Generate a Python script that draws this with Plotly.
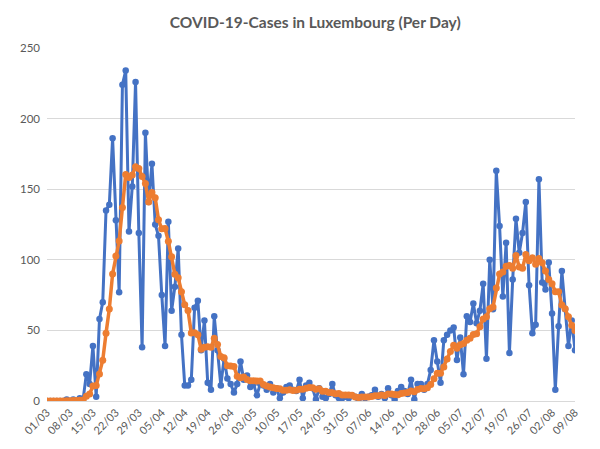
import pandas as pd
import plotly.graph_objects as go

# Dates 01/03/2020 .. 09/08/2020 (categories)
dates = [d.strftime("%d/%m") for d in pd.date_range("2020-03-01", "2020-08-09")]

tick_labels = ["01/03", "08/03", "15/03", "22/03", "29/03", "05/04", "12/04", "19/04",
               "26/04", "03/05", "10/05", "17/05", "24/05", "31/05", "07/06", "14/06",
               "21/06", "28/06", "05/07", "12/07", "19/07", "26/07", "02/08", "09/08"]

# Daily new cases
cases_march = [0, 0, 0, 0, 0, 0, 1, 0, 1, 0, 2, 1, 19, 12, 39, 3, 58, 70, 135, 139,
               186, 128, 77, 224, 234, 120, 152, 226, 119, 38, 190]
cases_april = [141, 168, 125, 117, 75, 39, 127, 64, 81, 108, 47, 11, 11, 15, 66, 71,
               36, 57, 13, 8, 60, 36, 11, 30, 16, 12, 6, 12, 28, 15]
cases_may = [18, 10, 12, 4, 12, 11, 8, 12, 6, 9, 2, 6, 10, 11, 8, 7, 15, 2, 11, 13,
             9, 1, 9, 3, 2, 5, 12, 4, 2, 2, 3]
cases_june = [2, 4, 3, 1, 5, 2, 3, 4, 8, 3, 5, 2, 9, 4, 1, 7, 10, 7, 5, 15, 1, 12,
              12, 8, 12, 22, 43, 28, 13, 43]
cases_july = [47, 50, 52, 29, 45, 19, 60, 56, 69, 55, 64, 83, 30, 100, 65, 163, 124,
              74, 112, 34, 86, 129, 105, 119, 141, 82, 48, 54, 157, 84, 79]
cases_august = [98, 62, 8, 53, 92, 65, 39, 57, 36]
daily_cases = cases_march + cases_april + cases_may + cases_june + cases_july + cases_august

# 7-day average (values read from / checked against the chart)
avg_march = [0, 0, 0, 0, 0, 0, 0.1, 0.1, 0.3, 0.3, 0.6, 0.7, 3.4, 5.0, 10.6, 10.9, 19.1,
             28.9, 48.0, 65.1, 90.0, 102.7, 113.3, 137.0, 160.4, 158.3, 160.1, 165.9,
             164.6, 159.0, 154.1]
avg_april = [140.9, 147.7, 143.9, 128.3, 122.0, 122.1, 113.1, 102.1, 89.7, 87.3, 77.3,
             68.1, 64.1, 48.1, 48.4, 47.0, 36.7, 38.1, 38.4, 38.0, 44.4, 40.1, 31.6,
             30.7, 24.9, 24.7, 24.4, 17.6, 16.4, 17.0]
avg_may = [15.3, 14.4, 14.4, 14.1, 14.1, 11.7, 10.7, 9.9, 9.3, 8.9, 8.6, 7.7, 7.6, 8.0,
           7.4, 7.6, 8.4, 8.4, 9.1, 9.6, 9.3, 8.3, 8.6, 6.9, 6.9, 6.0, 5.9, 5.1, 5.3,
           4.3, 4.3]
avg_june = [4.3, 4.1, 2.9, 2.4, 2.9, 2.9, 2.9, 3.1, 3.7, 3.7, 4.3, 3.9, 4.9, 5.0, 4.6,
            4.4, 5.4, 5.7, 6.1, 7.0, 6.6, 8.1, 8.9, 8.6, 9.3, 11.7, 15.7, 19.6, 19.7,
            24.1]
avg_july = [29.7, 35.1, 39.4, 37.4, 39.9, 40.7, 43.1, 44.4, 47.1, 47.6, 52.6, 58.0,
            59.6, 65.3, 66.6, 80.0, 89.9, 91.3, 95.4, 96.0, 94.0, 103.1, 94.9, 94.1,
            103.7, 99.4, 101.4, 96.9, 100.9, 97.9, 92.1]
avg_august = [86.0, 83.1, 77.4, 77.3, 68.0, 65.3, 59.6, 53.7, 50.0]
avg_cases = avg_march + avg_april + avg_may + avg_june + avg_july + avg_august

BLUE = "#4472C4"
ORANGE = "#ED7D31"
GREY_TXT = "#595959"

fig = go.Figure()
fig.add_trace(go.Scatter(
    x=dates, y=daily_cases, mode="lines+markers",
    line=dict(color=BLUE, width=3),
    marker=dict(color=BLUE, size=6.5, symbol="circle"),
    showlegend=False, name="Cases",
))
fig.add_trace(go.Scatter(
    x=dates, y=avg_cases, mode="lines+markers",
    line=dict(color=ORANGE, width=3.5),
    marker=dict(color=ORANGE, size=7, symbol="circle"),
    showlegend=False, name="7-day average",
))

# The page body adds an 8px offset; the figure is sized to fit the 600x449 window.
fig.update_layout(
    width=592, height=441,
    margin=dict(l=29, r=25, t=40, b=48),
    paper_bgcolor="white", plot_bgcolor="white",
    title=dict(
        text="<b>COVID-19-Cases in Luxembourg (Per Day)</b>",
        xref="container", x=0.519, xanchor="center", y=0.968, yanchor="middle",
        font=dict(family="Lato, Liberation Sans, sans-serif", size=15.5, color=GREY_TXT),
    ),
    font=dict(family="Lato, Liberation Sans, sans-serif", color=GREY_TXT),
)
fig.update_xaxes(
    type="category", categoryorder="array", categoryarray=dates,
    range=[0, len(dates) - 1],
    tickmode="array", tickvals=tick_labels, ticktext=tick_labels,
    tickangle=-45, tickfont=dict(size=11, color=GREY_TXT),
    showgrid=False, showline=True, linecolor="#D9D9D9", linewidth=1,
    ticks="", zeroline=False,
)
fig.update_yaxes(
    range=[0, 250], tickvals=[0, 50, 100, 150, 200, 250],
    tickfont=dict(size=11.5, color=GREY_TXT),
    showgrid=True, gridcolor="#D9D9D9", gridwidth=1,
    showline=False, zeroline=False, ticks="", ticklabelstandoff=6,
)

fig.write_html("out.html")
